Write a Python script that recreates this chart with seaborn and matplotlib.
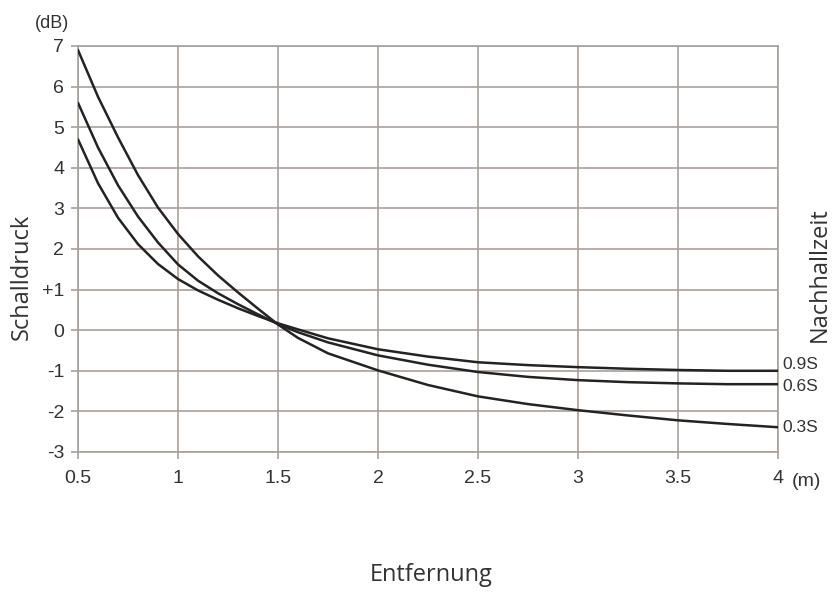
import matplotlib
matplotlib.use("Agg")
import matplotlib.pyplot as plt
import seaborn as sns
import pandas as pd

# ---- data ----
distance = [0.5, 0.6, 0.7, 0.8, 0.9, 1.0, 1.1, 1.2, 1.3, 1.4, 1.5, 1.6, 1.75,
            2.0, 2.25, 2.5, 2.75, 3.0, 3.25, 3.5, 3.75, 4.0]
spl_03s = [6.9, 5.75, 4.75, 3.82, 3.02, 2.37, 1.82, 1.35, 0.93, 0.53, 0.14, -0.19, -0.57,
           -0.99, -1.35, -1.63, -1.82, -1.97, -2.1, -2.22, -2.31, -2.39]
spl_06s = [5.6, 4.5, 3.57, 2.8, 2.16, 1.62, 1.22, 0.91, 0.64, 0.39, 0.15, -0.05, -0.3,
           -0.62, -0.85, -1.03, -1.15, -1.23, -1.28, -1.31, -1.33, -1.33]
spl_09s = [4.7, 3.62, 2.77, 2.12, 1.63, 1.26, 0.98, 0.75, 0.54, 0.35, 0.17, 0.02, -0.2,
           -0.47, -0.65, -0.79, -0.86, -0.91, -0.95, -0.98, -1.0, -1.0]
series_names = ["0.9S", "0.6S", "0.3S"]
x_ticks = [0.5, 1, 1.5, 2, 2.5, 3, 3.5, 4]
x_ticklabels = ["0.5", "1", "1.5", "2", "2.5", "3", "3.5", "4"]
y_ticks = [7, 6, 5, 4, 3, 2, 1, 0, -1, -2, -3]
y_ticklabels = ["7", "6", "5", "4", "3", "2", "+1", "0", "-1", "-2", "-3"]

rows = []
for name, vals in zip(series_names, [spl_09s, spl_06s, spl_03s]):
    for x, y in zip(distance, vals):
        rows.append({"Entfernung": x, "Schalldruck": y, "Nachhallzeit": name})
df = pd.DataFrame(rows)

sns.set_theme(style="white")
plt.rcParams["font.family"] = ["Liberation Sans", "DejaVu Sans"]

fig = plt.figure(figsize=(8.33, 5.92), dpi=100)
ax = fig.add_axes([78 / 833, 1 - 452 / 592, 700 / 833, 406 / 592])

grid_c = "#a8a09b"
line_c = "#232323"
text_c = "#333333"

sns.lineplot(data=df, x="Entfernung", y="Schalldruck", hue="Nachhallzeit",
             palette={n: line_c for n in series_names}, linewidth=1.8,
             legend=False, ax=ax, zorder=3)
for ln in ax.lines:
    ln.set_solid_joinstyle("round")

ax.set_xlim(0.5, 4)
ax.set_ylim(-3, 7)
ax.set_xticks(x_ticks)
ax.set_xticklabels(x_ticklabels)
ax.set_yticks(y_ticks)
ax.set_yticklabels(y_ticklabels)
ax.grid(True, color=grid_c, linewidth=1.2)
for s in ax.spines.values():
    s.set_color(grid_c)
    s.set_linewidth(1.2)
ax.tick_params(axis="both", which="both", length=5, width=1.2, color=grid_c,
               labelsize=14, labelcolor=text_c, direction="out")
ax.tick_params(axis="y", pad=5, left=True)
ax.tick_params(axis="x", pad=8, bottom=True)
ax.set_xlabel("")
ax.set_ylabel("")

# curve end labels (small vertical nudges so neighbouring labels don't touch)
label_nudge = {"0.9S": 4.5, "0.6S": -1.5, "0.3S": 0.0}
for name, vals in zip(series_names, [spl_09s, spl_06s, spl_03s]):
    ax.annotate(name, xy=(distance[-1], vals[-1]), xytext=(3, label_nudge[name]),
                textcoords="offset points", va="center", ha="left",
                fontsize=12.5, color=text_c, annotation_clip=False)

# unit labels
fig.text(52 / 833, 1 - 24 / 592, "(dB)", ha="center", va="center",
         fontsize=13, color=text_c)
ax.annotate("(m)", xy=(4, -3), xytext=(10, -21), textcoords="offset points",
            ha="left", va="center", fontsize=14, color=text_c,
            annotation_clip=False)

# axis titles
title_font = ["Open Sans", "DejaVu Sans"]
fig.text(22 / 833, 1 - 277 / 592, "Schalldruck", rotation=90, ha="center",
         va="center", fontsize=17, color=text_c, family=title_font)
fig.text(820 / 833, 1 - 275 / 592, "Nachhallzeit", rotation=90, ha="center",
         va="center", fontsize=17, color=text_c, family=title_font)
fig.text(431 / 833, 1 - 575 / 592, "Entfernung", ha="center", va="center",
         fontsize=17, color=text_c, family=title_font)

fig.savefig("out.png", dpi=100, facecolor="white")
